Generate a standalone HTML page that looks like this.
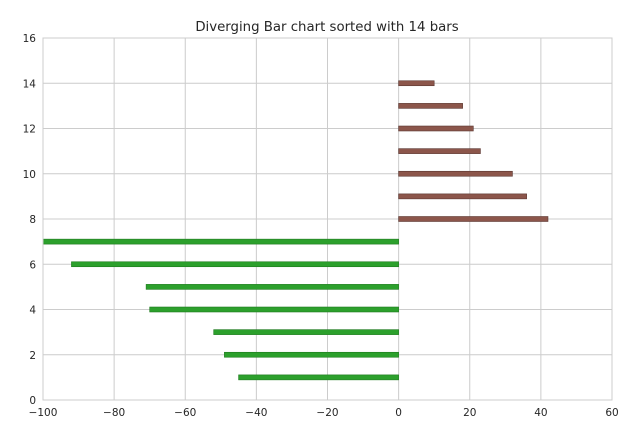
<!DOCTYPE html>
<html><head><meta charset="utf-8"><style>
body{margin:0;background:#fff;font-family:"DejaVu Sans",sans-serif;}
svg text{font-family:"DejaVu Sans",sans-serif;}
</style></head><body>
<svg id="chart" width="640" height="440">
<text x="327" y="31" text-anchor="middle" font-size="13.3" fill="#262626">Diverging Bar chart sorted with 14 bars</text>
<g id="grid"></g>
<g id="bars"></g>
<rect x="43" y="38" width="569" height="362" fill="none" stroke="#cccccc" stroke-width="1"/>
<g id="ticks"></g>
</svg>
<script>
const positions = [1,2,3,4,5,6,7,8,9,10,11,12,13,14];
const values = [-45,-49,-52,-70,-71,-92,-100,42,36,32,23,21,18,10];
const xTicks = [-100,-80,-60,-40,-20,0,20,40,60];
const yTicks = [0,2,4,6,8,10,12,14,16];
const X0=43,X1=612,Y0=400,Y1=38;
const xs=v=>X0+(v+100)/160*(X1-X0);
const ys=v=>Y0-v/16*(Y0-Y1);
const NS="http://www.w3.org/2000/svg";
const grid=document.getElementById('grid'),ticks=document.getElementById('ticks'),bars=document.getElementById('bars');
function mk(t,a){const e=document.createElementNS(NS,t);for(const k in a)e.setAttribute(k,a[k]);return e;}
xTicks.forEach(t=>{
  const l=mk('line',{x1:xs(t),x2:xs(t),y1:Y1,y2:Y0,stroke:'#cccccc'});
  
  
  grid.appendChild(l);
  const tx=mk('text',{x:xs(t),y:Y0+16,'text-anchor':'middle','font-size':10.5,fill:'#262626'});
  tx.textContent=String(t).replace('-','\u2212');
  
  
  ticks.appendChild(tx);
});
yTicks.forEach(t=>{
  const l=mk('line',{x1:X0,x2:X1,y1:ys(t),y2:ys(t),stroke:'#cccccc'});
  
  
  grid.appendChild(l);
  const tx=mk('text',{x:X0-7,y:ys(t)+4,'text-anchor':'end','font-size':10.5,fill:'#262626'});
  tx.textContent=t;
  
  
  ticks.appendChild(tx);
});
positions.forEach((p,i)=>{
  const v=values[i];
  const xa=Math.min(xs(0),xs(v)),w=Math.abs(xs(v)-xs(0));
  const h=ys(0)-ys(0.22);
  const r=mk('rect',{x:xa,y:ys(p)-h/2,width:w,height:h,fill:v<0?'#2ca02c':'#8c564b',stroke:v<0?'#1e7a1e':'#5a3630','stroke-width':0.6});
  
  
  bars.appendChild(r);
});
</script>
</body></html>
